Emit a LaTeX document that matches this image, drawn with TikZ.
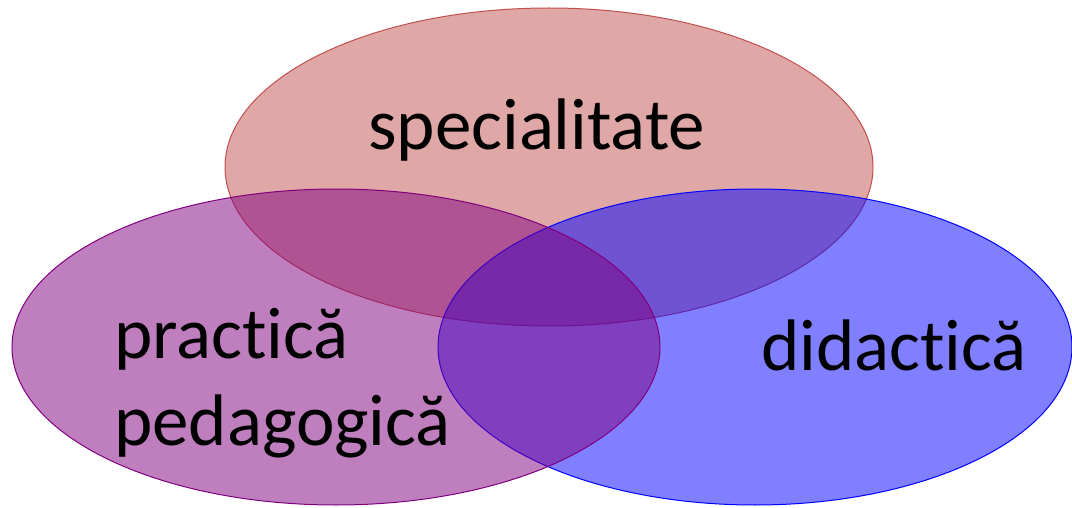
\documentclass[tikz,border=0pt]{standalone}
\usepackage{fontspec}
\setmainfont{Carlito}[Ligatures=NoCommon]
\usetikzlibrary{shapes.geometric, positioning}
\definecolor{specred}{RGB}{192,80,77}
\definecolor{pracpurple}{RGB}{128,0,128}
\definecolor{didblue}{RGB}{0,0,255}
\newcommand{\domain}[5]{
    \node[draw=#3, fill=#3, fill opacity=0.5, ellipse, line width=1pt, inner sep=0cm, minimum width=#4, minimum height=#5] (#1) at (#2) {};
}
\newcommand{\domlabel}[3]{
    \node[anchor=base west, inner sep=0cm] (#1) at (#2) {#3};
}

\begin{document}
\begin{tikzpicture}[x=1pt, y=-1pt, every node/.style={font=\fontsize{73}{88}\selectfont}]
                    \useasboundingbox (0,0) rectangle (1072,508);
                    \domain{spec}{549,167}{specred}{648pt}{318pt}
                    \domain{did}{755,347}{didblue}{634pt}{316pt}
                    \domain{prac}{336,347}{pracpurple}{648pt}{316pt}
                    \domlabel{tspec}{368,150}{specialitate}
                    \domlabel{tprac}{114,358}{practică}
                    \domlabel{tped}{114,445}{pedagogică}
                    \domlabel{tdid}{761,370}{didactică}
                \end{tikzpicture}
\end{document}
